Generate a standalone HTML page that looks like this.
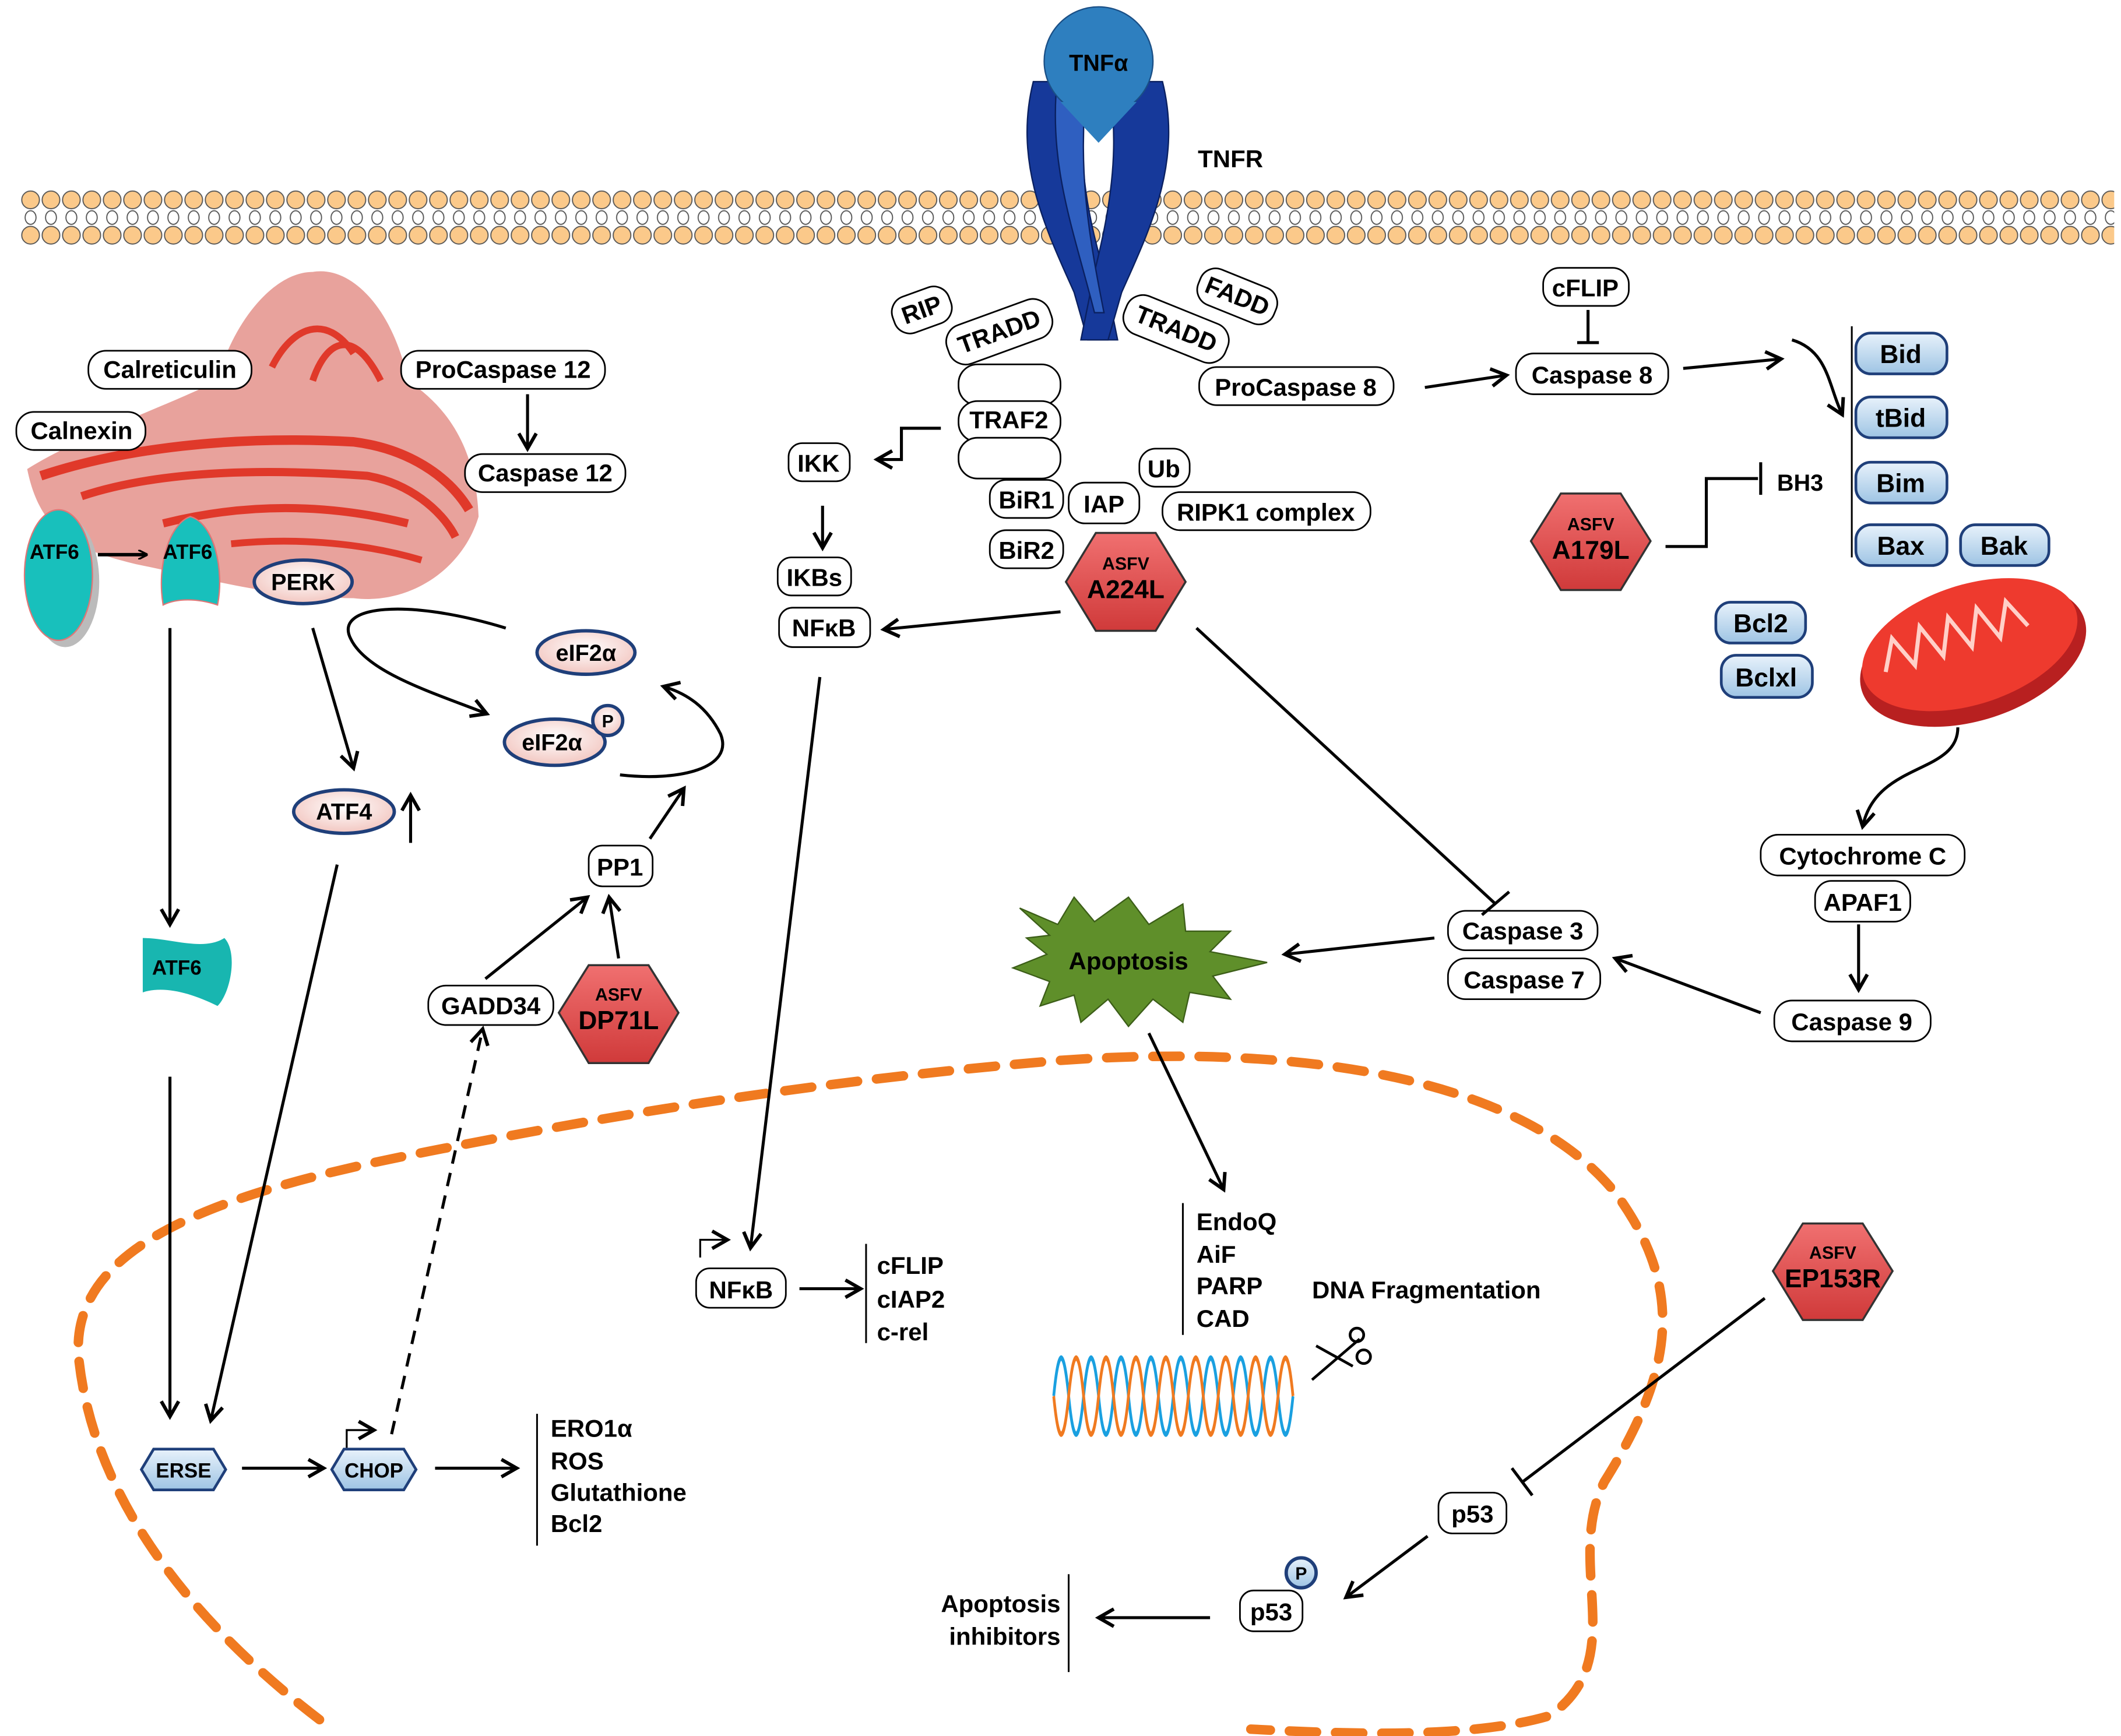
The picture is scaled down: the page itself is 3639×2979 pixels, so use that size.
<!DOCTYPE html>
<html><head><meta charset="utf-8"><style>
html,body{margin:0;padding:0;background:#fff;}
svg{display:block;}
text{font-family:"Liberation Sans",sans-serif;font-weight:bold;}
</style></head><body>
<svg width="3639" height="2979" viewBox="0 0 1560 1277" xmlns="http://www.w3.org/2000/svg">
<defs>
<pattern id="lip" x="15" y="140" width="15" height="40" patternUnits="userSpaceOnUse">
<circle cx="7.5" cy="7" r="6.5" fill="#fbc98a" stroke="#555" stroke-width="0.8"/>
<ellipse cx="7.5" cy="20" rx="4" ry="5" fill="#fff" stroke="#555" stroke-width="0.8"/>
<circle cx="7.5" cy="33" r="6.5" fill="#fbc98a" stroke="#555" stroke-width="0.8"/>
</pattern>
<marker id="ar" viewBox="0 0 10 10" refX="9" refY="5" markerWidth="7" markerHeight="7" orient="auto-start-reverse" markerUnits="userSpaceOnUse">
<path d="M0,0 L10,5 L0,10" fill="none" stroke="#000" stroke-width="2"/></marker>
<marker id="ah" viewBox="0 0 10 10" refX="8" refY="5" markerWidth="16" markerHeight="16" orient="auto" markerUnits="userSpaceOnUse">
<path d="M1,1 L8,5 L1,9" fill="none" stroke="#000" stroke-width="1.6"/></marker>
<radialGradient id="pink" cx="50%" cy="40%" r="60%"><stop offset="0" stop-color="#fff"/><stop offset="1" stop-color="#f2c6c0"/></radialGradient>
<linearGradient id="blu" x1="0" y1="0" x2="0" y2="1"><stop offset="0" stop-color="#e8f2fb"/><stop offset="1" stop-color="#9ec4e4"/></linearGradient>
<linearGradient id="red" x1="0" y1="0" x2="0" y2="1"><stop offset="0" stop-color="#f07070"/><stop offset="1" stop-color="#d03a3a"/></linearGradient>
</defs>

<rect x="15" y="140" width="1540" height="40" fill="url(#lip)"/>

<g fill="#16399a" stroke="#0a2060" stroke-width="1">
<path d="M760,60 C745,120 770,170 790,215 L800,250 L822,250 L812,200 C800,160 790,110 800,60 Z"/>
<path d="M855,60 C870,120 845,170 825,215 L815,250 L795,250 L805,200 C815,160 825,110 815,60 Z"/>
<path d="M778,55 C770,120 790,170 805,230 L812,230 C800,170 792,120 800,55 Z" fill="#2f5fc0"/>
</g>
<circle cx="808" cy="45" r="40" fill="#2e7fbf" stroke="#1a4f86"/>
<path d="M780,75 L808,105 L836,75 Z" fill="#2e7fbf"/>
<text x="808" y="52" font-size="17" text-anchor="middle">TNFα</text>
<text x="905" y="123" font-size="18" text-anchor="middle">TNFR</text>

<g>
<path d="M20,345 C60,320 120,300 160,280 C170,240 200,200 230,200 C260,195 290,230 300,280 C330,300 350,330 352,380 C340,420 300,445 260,440 C200,440 150,425 100,415 C60,405 30,395 20,345 Z" fill="#e8a29c"/>
<path d="M30,350 C90,330 170,320 260,325 C300,330 330,350 345,375" fill="none" stroke="#e0392a" stroke-width="7"/>
<path d="M60,365 C120,345 200,345 270,350 C300,355 325,375 335,395" fill="none" stroke="#e0392a" stroke-width="6"/>
<path d="M120,385 C180,370 240,370 300,385" fill="none" stroke="#e0392a" stroke-width="6"/>
<path d="M170,400 C220,395 270,400 310,412" fill="none" stroke="#e0392a" stroke-width="5"/>
<path d="M200,270 C215,240 240,230 260,260 M230,280 C240,250 260,240 280,280" fill="none" stroke="#e0392a" stroke-width="5"/>
</g>
<ellipse cx="48" cy="428" rx="25" ry="48" fill="#bbb"/>
<ellipse cx="43" cy="423" rx="25" ry="48" fill="#18c0bc" stroke="#d77" />
<text x="40" y="411" font-size="15" text-anchor="middle">ATF6</text>
<path d="M72,408 L108,408" stroke="#000" stroke-width="2.5" marker-end="url(#ar)"/>
<path d="M120,445 C115,415 125,385 140,380 C158,385 165,420 160,445 C145,440 130,440 120,445Z" fill="#18c0bc" stroke="#d77"/>
<text x="138" y="411" font-size="15" text-anchor="middle">ATF6</text>
<path d="M105,690 C125,690 150,700 165,690 C175,700 170,730 160,740 C140,730 120,725 105,730 Z" fill="#18b6b0"/>
<text x="130" y="717" font-size="15" text-anchor="middle">ATF6</text>

<g fill="#fff" stroke="#000" stroke-width="1.2">
<rect x="65" y="258" width="120" height="28" rx="13"/>
<rect x="295" y="258" width="150" height="28" rx="13"/>
<rect x="342" y="334" width="118" height="28" rx="13"/>
<rect x="12" y="303" width="95" height="28" rx="13"/>
<rect x="433" y="622" width="47" height="30" rx="10"/>
<rect x="315" y="725" width="92" height="29" rx="13"/>
<rect x="580" y="326" width="45" height="28" rx="10"/>
<rect x="572" y="410" width="54" height="28" rx="10"/>
<rect x="573" y="447" width="67" height="29" rx="10"/>
<rect x="728" y="353" width="54" height="28" rx="12"/>
<rect x="728" y="390" width="54" height="28" rx="12"/>
<rect x="786" y="355" width="52" height="30" rx="12"/>
<rect x="838" y="330" width="37" height="28" rx="12"/>
<rect x="855" y="362" width="153" height="28" rx="13"/>
<rect x="705" y="268" width="75" height="30" rx="14"/>
<rect x="705" y="295" width="75" height="30" rx="14"/>
<rect x="705" y="322" width="75" height="30" rx="14"/>
<rect x="882" y="270" width="143" height="28" rx="13"/>
<rect x="1135" y="197" width="63" height="28" rx="12"/>
<rect x="1115" y="260" width="112" height="30" rx="13"/>
<rect x="1295" y="614" width="150" height="30" rx="13"/>
<rect x="1335" y="648" width="70" height="30" rx="12"/>
<rect x="1305" y="736" width="115" height="30" rx="13"/>
<rect x="1065" y="670" width="110" height="29" rx="13"/>
<rect x="1065" y="705" width="112" height="30" rx="13"/>
<rect x="512" y="933" width="66" height="29" rx="10"/>
<rect x="1058" y="1098" width="50" height="30" rx="10"/>
<rect x="912" y="1170" width="46" height="30" rx="10"/>
<g transform="rotate(-20 678 228)"><rect x="656" y="214" width="44" height="28" rx="12"/></g>
<g transform="rotate(-20 735 244)"><rect x="695" y="229" width="80" height="30" rx="13"/></g>
<g transform="rotate(22 865 242)"><rect x="825" y="227" width="80" height="30" rx="13"/></g>
<g transform="rotate(22 910 218)"><rect x="880" y="204" width="60" height="28" rx="12"/></g>
</g>
<g font-size="18" text-anchor="middle">
<text x="125" y="278">Calreticulin</text>
<text x="370" y="278">ProCaspase 12</text>
<text x="401" y="354">Caspase 12</text>
<text x="60" y="323">Calnexin</text>
<text x="456" y="644">PP1</text>
<text x="361" y="746">GADD34</text>
<text x="602" y="347">IKK</text>
<text x="599" y="431">IKBs</text>
<text x="606" y="468">NFκB</text>
<text x="755" y="374">BiR1</text>
<text x="755" y="411">BiR2</text>
<text x="812" y="377">IAP</text>
<text x="856" y="351">Ub</text>
<text x="931" y="383">RIPK1 complex</text>
<text x="742" y="315">TRAF2</text>
<text x="953" y="291">ProCaspase 8</text>
<text x="1166" y="218">cFLIP</text>
<text x="1171" y="282">Caspase 8</text>
<text x="1370" y="636">Cytochrome C</text>
<text x="1370" y="670">APAF1</text>
<text x="1362" y="758">Caspase 9</text>
<text x="1120" y="691">Caspase 3</text>
<text x="1121" y="727">Caspase 7</text>
<text x="545" y="955">NFκB</text>
<text x="1083" y="1120">p53</text>
<text x="935" y="1192">p53</text>
<g transform="rotate(-20 678 228)"><text x="678" y="234">RIP</text></g>
<g transform="rotate(-20 735 244)"><text x="735" y="250">TRADD</text></g>
<g transform="rotate(22 865 242)"><text x="865" y="248">TRADD</text></g>
<g transform="rotate(22 910 218)"><text x="910" y="224">FADD</text></g>
</g>

<g stroke="#1f3f7a" stroke-width="2.5" fill="url(#pink)">
<ellipse cx="223" cy="428" rx="36" ry="16"/>
<ellipse cx="431" cy="480" rx="36" ry="16"/>
<ellipse cx="408" cy="546" rx="37" ry="17"/>
<ellipse cx="253" cy="597" rx="37" ry="16"/>
<circle cx="447" cy="530" r="11"/>
<circle cx="957" cy="1157" r="11" fill="url(#blu)"/>
</g>
<g font-size="17" text-anchor="middle">
<text x="223" y="434">PERK</text><text x="431" y="486">eIF2α</text><text x="406" y="552">eIF2α</text>
<text x="253" y="603">ATF4</text><text x="447" y="535" font-size="13">P</text><text x="957" y="1162" font-size="13">P</text>
</g>

<g fill="url(#blu)" stroke="#1f3f7a" stroke-width="2">
<rect x="1365" y="245" width="67" height="30" rx="11"/>
<rect x="1365" y="292" width="67" height="30" rx="11"/>
<rect x="1365" y="340" width="67" height="30" rx="11"/>
<rect x="1365" y="386" width="67" height="30" rx="11"/>
<rect x="1442" y="386" width="65" height="30" rx="11"/>
<rect x="1262" y="443" width="66" height="30" rx="11"/>
<rect x="1266" y="482" width="67" height="31" rx="11"/>
</g>
<g font-size="19" text-anchor="middle">
<text x="1398" y="267">Bid</text><text x="1398" y="314">tBid</text><text x="1398" y="362">Bim</text>
<text x="1398" y="408">Bax</text><text x="1474" y="408">Bak</text><text x="1295" y="465">Bcl2</text><text x="1299" y="505">Bclxl</text>
</g>
<path d="M1362,240 V410" stroke="#000" stroke-width="1.3"/>
<text x="1307" y="361" font-size="17">BH3</text>

<g transform="rotate(-18 1450 478)">
<ellipse cx="1450" cy="482" rx="86" ry="48" fill="#b82020"/>
<ellipse cx="1450" cy="474" rx="82" ry="44" fill="#ee3a2e"/>
<path d="M1385,474 l12,-22 l10,24 l12,-26 l10,26 l12,-26 l10,26 l12,-26 l10,26 l12,-24 l10,22" fill="none" stroke="#ffd0c8" stroke-width="3"/>
</g>

<g fill="url(#red)" stroke="#333" stroke-width="1.5">
<polygon points="433,710 477,710 499,745 477,782 433,782 411,745"/>
<polygon points="806,392 850,392 872,428 850,464 806,464 784,428"/>
<polygon points="1148,363 1192,363 1214,398 1192,434 1148,434 1126,398"/>
<polygon points="1326,900 1370,900 1392,935 1370,971 1326,971 1304,935"/>
</g>
<g text-anchor="middle">
<text x="455" y="736" font-size="13">ASFV</text><text x="455" y="757" font-size="19">DP71L</text>
<text x="828" y="419" font-size="13">ASFV</text><text x="828" y="440" font-size="19">A224L</text>
<text x="1170" y="390" font-size="13">ASFV</text><text x="1170" y="411" font-size="19">A179L</text>
<text x="1348" y="926" font-size="13">ASFV</text><text x="1348" y="947" font-size="19">EP153R</text>
</g>

<g fill="url(#blu)" stroke="#1f3f7a" stroke-width="2">
<polygon points="113,1066 157,1066 166,1081 157,1096 113,1096 104,1081"/>
<polygon points="253,1066 297,1066 306,1081 297,1096 253,1096 244,1081"/>
</g>
<text x="135" y="1087" font-size="15" text-anchor="middle">ERSE</text>
<text x="275" y="1087" font-size="15" text-anchor="middle">CHOP</text>

<polygon fill="#5f8f2a" stroke="#3c5e18" points="750,668 778,680 790,660 805,678 830,660 845,680 870,665 872,685 905,685 890,700 932,708 892,718 905,735 875,730 870,752 848,735 830,755 815,735 795,752 790,732 765,740 772,722 745,712 770,702 755,690 772,688"/>
<text x="830" y="713" font-size="18" text-anchor="middle">Apoptosis</text>

<path d="M235,1265 C150,1200 70,1110 58,1000 C50,920 150,880 300,850 C450,820 600,795 780,780 C950,768 1120,790 1190,880 C1240,950 1230,1010 1180,1090 C1150,1150 1200,1220 1140,1262 C1080,1280 980,1275 920,1272" fill="none" stroke="#f07a20" stroke-width="7" stroke-dasharray="20 14" stroke-linecap="round"/>

<g font-size="18">
<text x="645" y="937">cFLIP</text><text x="645" y="962">cIAP2</text><text x="645" y="986">c-rel</text>
<text x="880" y="905">EndoQ</text><text x="880" y="929">AiF</text><text x="880" y="952">PARP</text><text x="880" y="976">CAD</text>
<text x="965" y="955">DNA Fragmentation</text>
<text x="405" y="1057">ERO1α</text><text x="405" y="1081">ROS</text><text x="405" y="1104">Glutathione</text><text x="405" y="1127">Bcl2</text>
<text x="780" y="1186" text-anchor="end">Apoptosis</text><text x="780" y="1210" text-anchor="end">inhibitors</text>
</g>
<g stroke="#000" stroke-width="1.3">
<path d="M637,915 V988"/><path d="M870,885 V982"/><path d="M395,1040 V1137"/><path d="M786,1158 V1230"/>
</g>

<g fill="none" stroke-width="4">
<path d="M775,1027 q11,-56 22,0 q11,56 22,0 q11,-56 22,0 q11,56 22,0 q11,-56 22,0 q11,56 22,0 q11,-56 22,0 q11,56 22,0 q11,-56 22,0 q11,56 22,0 q11,-56 22,0 q11,56 22,0 q11,-56 22,0 q11,56 22,0 q11,-56 22,0 q11,56 22,0" transform="translate(775 1027) scale(0.5 1) translate(-775 -1027)" stroke="#1aa0e0"/>
<path d="M775,1027 q11,56 22,0 q11,-56 22,0 q11,56 22,0 q11,-56 22,0 q11,56 22,0 q11,-56 22,0 q11,56 22,0 q11,-56 22,0 q11,56 22,0 q11,-56 22,0 q11,56 22,0 q11,-56 22,0 q11,56 22,0 q11,-56 22,0 q11,56 22,0 q11,-56 22,0" transform="translate(775 1027) scale(0.5 1) translate(-775 -1027)" stroke="#f07a20"/>
</g>
<g stroke="#000" stroke-width="2" fill="none">
<path d="M965,1015 L1000,985"/><path d="M968,990 L995,1005"/>
<circle cx="1003" cy="998" r="5"/><circle cx="998" cy="982" r="5"/>
</g>

<g stroke="#000" stroke-width="2.2" fill="none" marker-end="url(#ah)">
<path d="M388,290 V330"/>
<path d="M125,462 V680"/>
<path d="M125,792 V1042"/>
<path d="M230,462 L260,565"/>
<path d="M302,620 V585"/>
<path d="M248,636 L155,1045"/>
<path d="M372,462 C300,440 245,445 258,470 C270,495 320,510 358,525"/>
<path d="M456,570 C500,575 540,565 530,540 C520,520 505,510 488,505"/>
<path d="M478,617 L503,580"/>
<path d="M357,720 L432,660"/>
<path d="M455,705 L448,660"/>
<path d="M288,1055 L355,757" stroke-dasharray="10 7"/>
<path d="M178,1080 H238"/>
<path d="M320,1080 H380"/>
<path d="M692,315 H663 V338 H645"/>
<path d="M605,372 V403"/>
<path d="M780,450 L650,463"/>
<path d="M603,498 L552,918"/>
<path d="M588,948 H633"/>
<path d="M1048,285 L1108,276"/>
<path d="M1238,271 L1310,264"/>
<path d="M1318,250 C1345,258 1345,285 1355,305"/>
<path d="M1440,535 C1440,570 1380,560 1370,608"/>
<path d="M1367,680 V728"/>
<path d="M1295,745 L1188,705"/>
<path d="M1055,690 L945,702"/>
<path d="M845,760 L900,875"/>
<path d="M1050,1130 L990,1175"/>
<path d="M890,1190 H808"/>
<path d="M515,925 V912 H535" stroke-width="1.4"/>
<path d="M255,1065 V1052 H275" stroke-width="1.4"/>
</g>
<g stroke="#000" stroke-width="2.2" fill="none">
<path d="M880,462 L1100,665"/><path d="M1090,673 L1110,656"/>
<path d="M1168,228 V252"/><path d="M1160,252 H1176"/>
<path d="M1225,402 H1255 V352 H1293"/><path d="M1295,340 V364"/>
<path d="M1298,955 L1120,1090"/><path d="M1112,1080 L1127,1100"/>
</g>
</svg>
</body></html>
